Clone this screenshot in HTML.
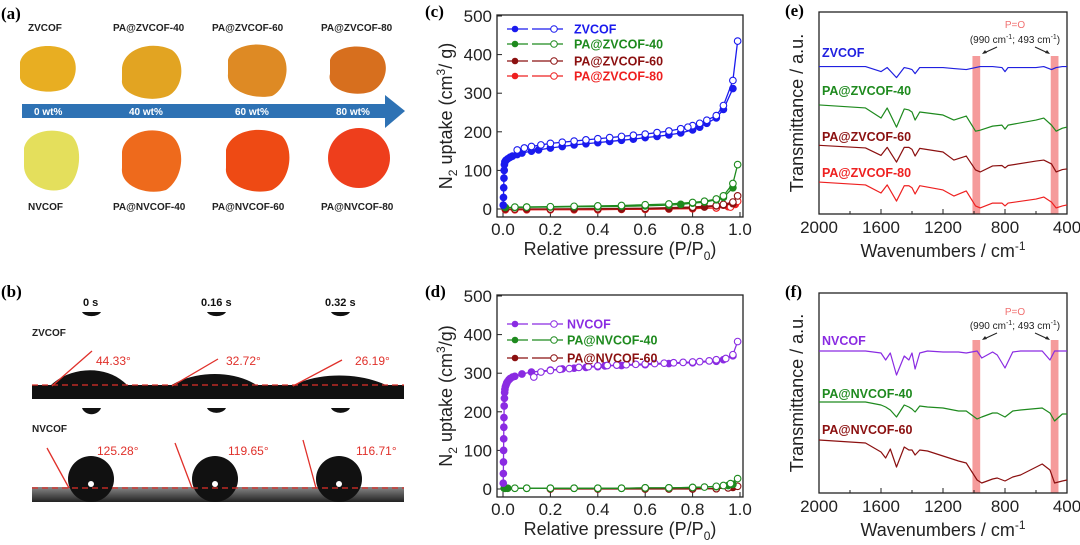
<!DOCTYPE html>
<html><head><meta charset="utf-8"><style>
html,body{margin:0;padding:0;background:#fff;}
svg{display:block;font-family:"Liberation Sans",Arial,sans-serif;}
.pl{font-family:"Liberation Serif",serif;font-weight:bold;font-size:17px;}
.tk{font-size:17px;fill:#222;}
.ttl{font-size:18px;fill:#222;}
.lg{font-size:12.5px;font-weight:bold;}
.al{font-size:10px;font-weight:bold;fill:#222;}
</style></head><body>
<svg id="fig" width="1080" height="545" viewBox="0 0 1080 545">
<g>
<text class="pl" x="1" y="19">(a)</text>
<text class="al" x="28" y="31">ZVCOF</text>
<text class="al" x="113" y="31">PA@ZVCOF-40</text>
<text class="al" x="212" y="31">PA@ZVCOF-60</text>
<text class="al" x="321" y="31">PA@ZVCOF-80</text>
<path d="M20,62 C24,46 50,42 66,50 C80,58 78,80 66,88 C50,96 22,90 20,78 Z" fill="#e8ae22"/>
<path d="M122,68 C124,48 152,40 172,50 C186,60 184,88 168,96 C148,104 120,94 122,80 Z" fill="#e2a422"/>
<path d="M228,60 C232,44 262,40 278,50 C292,60 288,88 272,96 C252,100 226,90 228,74 Z" fill="#de8a24"/>
<path d="M330,60 C334,46 362,42 378,52 C392,62 386,86 370,92 C350,98 326,88 330,74 Z" fill="#d76f1e"/>
<path d="M24,148 C28,130 56,126 72,136 C84,148 80,180 66,188 C48,196 24,184 24,166 Z" fill="#e4df5c"/>
<path d="M122,152 C124,132 154,124 172,136 C186,148 184,178 166,190 C146,196 120,186 122,168 Z" fill="#ee6a1c"/>
<path d="M226,150 C230,130 262,124 282,136 C294,148 292,180 272,190 C250,196 224,184 226,168 Z" fill="#ee4a14"/>
<ellipse cx="359" cy="158" rx="31" ry="30" fill="#ee3e1c"/>
<path d="M22,104 H385 V95 L405,111 L385,128 V118 H22 Z" fill="#2e72b4"/>
<g fill="#fff" font-size="10" font-weight="bold">
<text x="34" y="115">0 wt%</text>
<text x="129" y="115">40 wt%</text>
<text x="235" y="115">60 wt%</text>
<text x="336" y="115">80 wt%</text>
</g>
<text class="al" x="28" y="210">NVCOF</text>
<text class="al" x="113" y="210">PA@NVCOF-40</text>
<text class="al" x="212" y="210">PA@NVCOF-60</text>
<text class="al" x="321" y="210">PA@NVCOF-80</text>
</g>
<g>
<text class="pl" x="1" y="297">(b)</text>
<g font-size="11" font-weight="bold" fill="#111">
<text x="83" y="306">0 s</text>
<text x="201" y="306">0.16 s</text>
<text x="325" y="306">0.32 s</text>
</g>
<text class="al" x="32" y="336">ZVCOF</text>
<text class="al" x="32" y="432">NVCOF</text>
<g fill="#111">
<path d="M82,312 H101 A10,6 0 0 1 82,312Z"/><path d="M207,312 H226 A10,6 0 0 1 207,312Z"/><path d="M331,312 H350 A10,6 0 0 1 331,312Z"/>
<path d="M82,408 H101 A10,9 0 0 1 82,408Z"/><path d="M207,408 H226 A10,7 0 0 1 207,408Z"/><path d="M331,408 H350 A10,7 0 0 1 331,408Z"/>
<rect x="32" y="385" width="372" height="14"/>
<path d="M50,386 C70,366 108,364 128,386Z"/>
<path d="M170,386 C195,370 235,370 258,386Z"/>
<path d="M292,386 C318,372 360,372 388,386Z"/>
</g>
<defs><linearGradient id="sg" x1="0" y1="0" x2="0" y2="1"><stop offset="0" stop-color="#888"/><stop offset="1" stop-color="#222"/></linearGradient></defs>
<rect x="32" y="487" width="372" height="15" fill="url(#sg)"/>
<g fill="#111">
<circle cx="91" cy="479" r="23"/><circle cx="215" cy="479" r="23"/><circle cx="339" cy="479" r="23"/>
</g>
<g fill="#fff"><circle cx="91" cy="484" r="3"/><circle cx="215" cy="484" r="3"/><circle cx="339" cy="484" r="3"/></g>
<g stroke="#e0302a" stroke-width="1.3" fill="none">
<path d="M32,385 H404" stroke-dasharray="6,4"/>
<path d="M32,488 H404" stroke-dasharray="6,4"/>
<line x1="52" y1="386" x2="92" y2="351"/><line x1="172" y1="386" x2="218" y2="359"/><line x1="293" y1="386" x2="342" y2="360"/>
<line x1="69" y1="488" x2="47" y2="448"/><line x1="192" y1="488" x2="175" y2="443"/><line x1="316" y1="488" x2="303" y2="440"/>
</g>
<g fill="#e0302a" font-size="12">
<text x="96" y="365">44.33°</text>
<text x="226" y="365">32.72°</text>
<text x="355" y="365">26.19°</text>
<text x="97" y="455">125.28°</text>
<text x="228" y="455">119.65°</text>
<text x="356" y="455">116.71°</text>
</g>
</g>
<g id="charts"></g>
</svg>
<script>
const zAdsP=[0.001,0.002,0.003,0.004,0.005,0.006,0.008,0.012,0.02,0.03,0.04,0.06,0.08,0.12,0.15,0.2,0.25,0.3,0.35,0.4,0.45,0.5,0.55,0.6,0.65,0.7,0.75,0.8,0.83,0.86,0.9,0.93,0.97];
const zAdsV=[10,30,55,80,100,115,122,126,130,134,137,141,145,150,153,158,162,166,169,172,175,178,181,185,188,192,197,205,212,222,236,258,312];
const zDesP=[0.99,0.97,0.93,0.9,0.86,0.83,0.8,0.78,0.75,0.7,0.65,0.6,0.55,0.5,0.45,0.4,0.35,0.3,0.25,0.2,0.16,0.12,0.09,0.06];
const zDesV=[435,333,268,242,230,222,216,212,208,202,198,194,191,188,185,182,179,176,173,170,166,162,158,153];
const g40AdsP=[0.01,0.05,0.1,0.2,0.3,0.4,0.5,0.6,0.7,0.75,0.8,0.85,0.9,0.93,0.97];
const g40AdsV=[4,4,5,5,6,6,7,8,10,12,15,18,24,30,55];
const g40DesP=[0.99,0.97,0.93,0.9,0.85,0.8,0.7,0.6,0.5,0.4,0.3,0.2,0.1,0.05];
const g40DesV=[115,66,34,26,20,17,13,11,9,8,7,6,5,5];
const r60AdsP=[0.01,0.1,0.2,0.3,0.4,0.5,0.6,0.7,0.8,0.85,0.9,0.93,0.97];
const r60AdsV=[0,0,0,0,0,0,1,1,3,5,8,10,14];
const r60DesP=[0.99,0.97,0.93,0.9,0.8,0.6,0.4,0.2,0.05];
const r60DesV=[34,18,12,9,5,2,1,0,0];
const r80AdsP=[0.01,0.1,0.2,0.3,0.4,0.5,0.6,0.7,0.8,0.9,0.95,0.98];
const r80AdsV=[-2,-2,-2,-2,-2,-1,-1,0,1,3,6,12];
const r80DesP=[0.99,0.96,0.9,0.8,0.6,0.4,0.2,0.05];
const r80DesV=[20,5,3,1,0,-1,-1,-2];
const nAdsP=[0.001,0.0015,0.002,0.0025,0.003,0.0035,0.004,0.005,0.006,0.007,0.008,0.01,0.013,0.016,0.02,0.025,0.03,0.04,0.05,0.08,0.12];
const nAdsV=[15,40,70,100,130,160,185,215,235,250,258,265,270,275,279,283,286,290,292,298,303];
const nDesP=[0.99,0.97,0.94,0.9,0.87,0.83,0.8,0.76,0.72,0.68,0.64,0.6,0.56,0.52,0.48,0.44,0.4,0.36,0.32,0.28,0.24,0.2,0.16,0.13];
const nDesV=[382,348,338,335,332,330,329,328,327,326,325,324,323,322,321,320,319,317,315,312,310,307,303,290];
const n2AdsP=[0.2,0.25,0.3,0.35,0.4,0.43,0.5,0.6,0.7,0.8,0.9,0.93,0.97];
const n2AdsV=[308,311,313,315,317,319,320,322,325,327,331,335,345];
const ng40AdsP=[0.005,0.01,0.02,0.1,0.2,0.3,0.4,0.5,0.6,0.7,0.8,0.9,0.95,0.97];
const ng40AdsV=[2,2,2,2,2,2,2,2,3,3,4,6,9,12];
const ng40DesP=[0.99,0.96,0.93,0.9,0.85,0.8,0.7,0.6,0.5,0.4,0.3,0.2,0.1,0.05];
const ng40DesV=[27,14,9,7,5,4,3,3,2,2,2,2,2,2];
const nr60AdsP=[0.2,0.4,0.6,0.8,0.9,0.97];
const nr60AdsV=[0,0,0,0,1,4];
const nr60DesP=[0.99,0.95,0.9,0.8,0.7];
const nr60DesV=[7,3,1,1,0];
const irWn=[2000,1700,1600,1560,1500,1450,1420,1400,1380,1350,1200,1130,1050,990,960,880,820,800,780,600,550,500,470,430,400];
const irZ=[73,73,70.5,72.5,67.5,72.5,72,71.5,69.5,72.5,72.5,72,71.5,72.5,73,73,72.5,70.5,72.5,72.5,73,71.5,72.5,73,73];
const irZ40=[54,52.5,47.5,52.5,43,52,51.5,50.5,46.5,50.5,49,46.5,48.5,41,41.5,43.5,44,42,44,46.5,47.5,44,41,42.5,43];
const irZ60=[34,32.7,29,33,25.7,33,33,32,28.7,32.5,30.7,26.7,28.7,21.8,20.8,23.8,24,22.8,24,26.2,26.7,24.8,20.8,22,22.3];
const irZ80=[15.8,14.4,10.4,14.4,6.4,14,14,13,9.9,14,11.9,8.9,11.4,4,3,5.4,5.4,4,5.4,7.4,8.4,5.9,3,4,4.5];
const irWnF=[2000,1700,1600,1570,1540,1500,1450,1420,1400,1380,1350,1300,1200,1100,1050,980,950,880,850,800,750,700,560,510,480,430,400];
const irN=[71,71,70,66.5,70,59,68.5,66.5,70,62,70,71,70.5,70.5,70,71,67.5,70.5,69,62.5,70.5,71,71,66.5,71,71,71];
const irN40=[45.5,45.5,44,43,41.5,38,44,43,42,40.5,43.5,43,42.5,41,41,37,38,40,40,38,41,41.5,42.5,40,36,39.5,39.5];
const irN60=[26.5,25,20.5,17.5,22,13,23,21.5,21.5,19,21.5,21,18.5,16,15,6.5,5,7,7.5,6,8,9,14.5,11.5,5,6,6.5];

const NS='http://www.w3.org/2000/svg';
const root=document.getElementById('charts');
function mk(tag,attrs,parent){const e=document.createElementNS(NS,tag);for(const k in attrs)e.setAttribute(k,attrs[k]);(parent||root).appendChild(e);return e;}
function txt(s,attrs,parent){const e=mk('text',attrs,parent);e.textContent=s;return e;}

function isoPanel(oy,label,series,legend){
  const L=497,R=743,T=oy,B=oy+202;
  const X=p=>503+p*(740-503);
  const Y=v=>(oy+194)-v*((oy+194)-(oy+1))/500;
  const g=mk('g',{});
  
  
  const f=mk('rect',{x:L,y:T,width:R-L,height:B-T,fill:'none',stroke:'#222','stroke-width':1.3},g);
  
  
  const pl=txt('('+label+')',{x:425,y:oy+2,class:'pl'},g);
  
  
  for(const v of [0,100,200,300,400,500]){
    mk('line',{x1:L,x2:L+5,y1:Y(v),y2:Y(v),stroke:'#222'},g);
    const t=txt(String(v),{x:L-5,y:Y(v)+6,'text-anchor':'end',class:'tk'},g);
    
    
  }
  for(const p of [0,0.2,0.4,0.6,0.8,1.0]){
    mk('line',{x1:X(p),x2:X(p),y1:B,y2:B-5,stroke:'#222'},g);
    const t=txt(p.toFixed(1),{x:X(p),y:B+18,'text-anchor':'middle',class:'tk'},g);
    
    
  }
  const xt=txt('',{x:620,y:B+38,'text-anchor':'middle',class:'ttl'},g);
  xt.innerHTML='Relative pressure (P/P<tspan dy="5" font-size="12">0</tspan><tspan dy="-5">)</tspan>';
  
  
  const yt=txt('',{transform:`translate(452,${(T+B)/2}) rotate(-90)`,'text-anchor':'middle',class:'ttl'},g);
  yt.innerHTML=label==='c'?'N<tspan dy="5" font-size="12">2</tspan><tspan dy="-5"> uptake (cm</tspan><tspan dy="-7" font-size="12">3</tspan><tspan dy="7">/ g)</tspan>':'N<tspan dy="5" font-size="12">2</tspan><tspan dy="-5"> uptake (cm</tspan><tspan dy="-7" font-size="12">3</tspan><tspan dy="7">/g)</tspan>';
  
  
  series.forEach(s=>{
    [[s.ap,s.av,true],[s.dp,s.dv,false]].forEach(([P,V,filled])=>{
      const pts=P.map((p,i)=>X(p)+','+Y(V[i])).join(' ');
      const ln=mk('polyline',{points:pts,fill:'none',stroke:s.c,'stroke-width':1.3},g);
      
      
      P.forEach((p,i)=>{
        const c=mk('circle',{cx:X(p),cy:Y(V[i]),r:3.3,fill:filled?s.c:'#fff',stroke:s.c,'stroke-width':1.1},g);
        
        
      });
    });
  });
  legend.forEach((s,i)=>{
    const ly=oy+legYs[label][i];
    const lg=mk('g',{},g);
    
    
    mk('line',{x1:507,x2:528,y1:ly,y2:ly,stroke:s.c,'stroke-width':1.3},lg);
    mk('line',{x1:532,x2:563,y1:ly,y2:ly,stroke:s.c,'stroke-width':1.3},lg);
    mk('circle',{cx:515,cy:ly,r:3.3,fill:s.c},lg);
    mk('circle',{cx:554,cy:ly,r:3.3,fill:'#fff',stroke:s.c},lg);
    txt(s.t,{x:legX[label],y:ly+4.5,class:'lg',fill:s.c},lg);
  });
}
const legYs={c:[14,29,46,61],d:[29,45,63]};
const legX={c:574,d:567};
const BL='#1a1aee',GR='#1e8a1e',DR='#8b1010',RD='#ee2020',PU='#8a2be2';
const sc=[{n:'zvcof',t:'ZVCOF',c:BL,ap:zAdsP,av:zAdsV,dp:zDesP,dv:zDesV},
{n:'pa-zvcof-40',t:'PA@ZVCOF-40',c:GR,ap:g40AdsP,av:g40AdsV,dp:g40DesP,dv:g40DesV},
{n:'pa-zvcof-60',t:'PA@ZVCOF-60',c:DR,ap:r60AdsP,av:r60AdsV,dp:r60DesP,dv:r60DesV},
{n:'pa-zvcof-80',t:'PA@ZVCOF-80',c:RD,ap:r80AdsP,av:r80AdsV,dp:r80DesP,dv:r80DesV}];
isoPanel(15,'c',sc.slice().reverse(),sc);
const sd=[{n:'nvcof',t:'NVCOF',c:PU,ap:nAdsP.concat(n2AdsP),av:nAdsV.concat(n2AdsV),dp:nDesP,dv:nDesV},
{n:'pa-nvcof-40',t:'PA@NVCOF-40',c:GR,ap:ng40AdsP,av:ng40AdsV,dp:ng40DesP,dv:ng40DesV},
{n:'pa-nvcof-60',t:'PA@NVCOF-60',c:DR,ap:nr60AdsP,av:nr60AdsV,dp:nr60DesP,dv:nr60DesV}];
isoPanel(295,'d',sd.slice().reverse(),sd);

function irPanel(top,bot,label,wn,series,pY,parY,bandTop){
  const L=819,R=1067;
  const X=w=>L+(2000-w)*(R-L)/1600;
  const Y=v=>bot-v*(bot-top)/100;
  const g=mk('g',{});
  
  
  [[1010,960],[505,455]].forEach(([a,b])=>{
    const r=mk('rect',{x:X(a),y:bandTop,width:X(b)-X(a),height:bot-bandTop,fill:'#f49090',opacity:0.9},g);
    
    
  });
  const f=mk('rect',{x:L,y:top,width:R-L,height:bot-top,fill:'none',stroke:'#222','stroke-width':1.3},g);
  
  
  const pl=txt('('+label+')',{x:785,y:top+4,class:'pl'},g);
  
  
  for(let w=2000;w>=400;w-=200){
    mk('line',{x1:X(w),x2:X(w),y1:bot,y2:bot-(w%400===0?5:3),stroke:'#222'},g);
  }
  for(const w of [2000,1600,1200,800,400]){
    const t=txt(String(w),{x:X(w),y:bot+19,'text-anchor':'middle',class:'tk'},g);
    
    
  }
  const xt=txt('',{x:943,y:bot+43,'text-anchor':'middle',class:'ttl'},g);
  xt.innerHTML='Wavenumbers / cm<tspan dy="-7" font-size="12">-1</tspan>';
  
  
  const yt=txt('Transmittance / a.u.',{transform:`translate(803,${(top+bot)/2}) rotate(-90)`,'text-anchor':'middle',class:'ttl'},g);
  
  
  series.forEach(s=>{
    const ln=mk('polyline',{points:wn.map((w,i)=>X(w)+','+Y(s.v[i])).join(' '),fill:'none',stroke:s.c,'stroke-width':1.2,'stroke-linejoin':'round'},g);
    
    
    const t=txt(s.t,{x:822,y:s.ly,class:'lg',fill:s.c},g);
    
    
  });
  const p=txt('P=O',{x:1015,y:pY,'text-anchor':'middle','font-size':'10',fill:'#f07070'},g);
  
  
  const q=txt('',{x:1015,y:parY,'text-anchor':'middle','font-size':'10',fill:'#222'},g);
  q.innerHTML='(990 cm<tspan dy="-4" font-size="7">-1</tspan><tspan dy="4">; 493 cm</tspan><tspan dy="-4" font-size="7">-1</tspan><tspan dy="4">)</tspan>';
  
  
  mk('line',{x1:997,y1:parY+4,x2:984,y2:parY+10,stroke:'#222'},g);
  mk('path',{d:`M982,${parY+11} l5,-1 l-2,-3z`,fill:'#222'},g);
  mk('line',{x1:1035,y1:parY+4,x2:1048,y2:parY+10,stroke:'#222'},g);
  mk('path',{d:`M1050,${parY+11} l-5,-1 l2,-3z`,fill:'#222'},g);
}
irPanel(12,214,'e',irWn,[
 {n:'zvcof',t:'ZVCOF',c:'#2020e0',v:irZ,ly:57},
 {n:'pa-zvcof-40',t:'PA@ZVCOF-40',c:GR,v:irZ40,ly:95},
 {n:'pa-zvcof-60',t:'PA@ZVCOF-60',c:DR,v:irZ60,ly:141},
 {n:'pa-zvcof-80',t:'PA@ZVCOF-80',c:RD,v:irZ80,ly:177}],28,43,56);
irPanel(293,493,'f',irWnF,[
 {n:'nvcof',t:'NVCOF',c:PU,v:irN,ly:345},
 {n:'pa-nvcof-40',t:'PA@NVCOF-40',c:GR,v:irN40,ly:398},
 {n:'pa-nvcof-60',t:'PA@NVCOF-60',c:DR,v:irN60,ly:434}],315,329,340);
</script>
</body></html>
